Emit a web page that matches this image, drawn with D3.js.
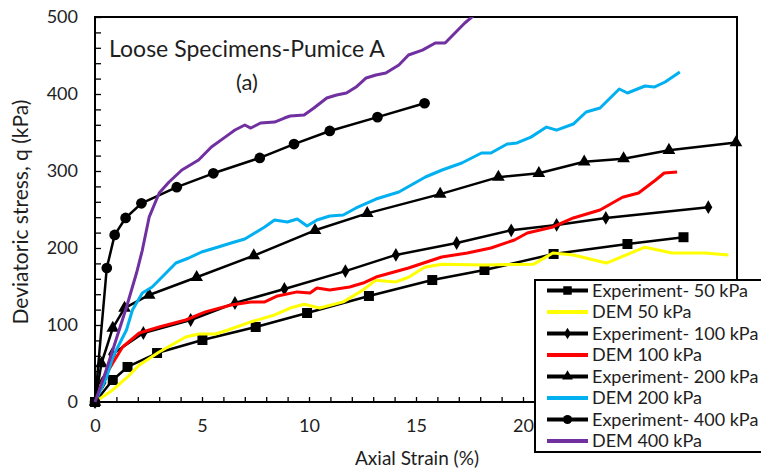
<!DOCTYPE html>
<html>
<head>
<meta charset="utf-8">
<script src="https://cdn.jsdelivr.net/npm/d3@7"></script>
<style>
  body { margin: 0; background: #fff; }
  svg { display: block; font-family: Lato, "Open Sans", sans-serif; }
</style>
</head>
<body>
<svg id="chart" width="761" height="472"></svg>
<script>
// series names / legend labels
const seriesNames = ["Experiment- 50 kPa", "DEM 50 kPa", "Experiment- 100 kPa", "DEM 100 kPa",
                     "Experiment- 200 kPa", "DEM 200 kPa", "Experiment- 400 kPa", "DEM 400 kPa"]
// 25 and 30 sit under the legend box, so only these show
const xTicks = [0, 5, 10, 15, 20]
const yTicks = [0, 100, 200, 300, 400, 500]

// [axial strain %, q kPa]
const exp50 = [[0,0],[0.83,28.6],[1.52,45.5],[2.9,63.6],[5.02,80.5],[7.51,97.4],[9.91,115.6],[12.8,137.7],
  [15.76,158.4],[18.2,171.4],[21.43,192.2],[24.88,205.2],[27.5,214]]
const dem50 = [[0,0],[0.83,15.6],[1.47,31.2],[2.07,48],[3.0,65],[4.24,84.4],[4.84,88.3],[5.62,88.3],[6.22,93.5],
  [7.28,104],[8.39,113],[9.12,122],[9.77,127],[10.5,122],[11.6,130],[12.5,145],[13.1,158],[14.06,156],[14.65,162],
  [15.4,175],[16.2,179],[18.2,178],[20.5,179],[21.4,193.5],[22.35,191],[23.9,180.5],[25.7,201],[26.96,193.5],
  [28.5,193.5],[29.6,191]]
const exp100 = [[0,0],[0.35,25],[0.8,62],[2.26,89.6],[4.47,106.5],[6.54,128.6],[8.85,146.8],[11.7,170],
  [14.06,191],[16.9,206.5],[19.45,223],[21.57,230],[23.87,239],[28.66,253]]
const dem100 = [[0,0],[0.37,28.6],[0.83,50.6],[1.29,71.4],[2.07,89.6],[3.0,97.4],[4.24,106.5],[5.16,117],
  [6.36,126],[7.28,130],[7.93,130],[8.53,137.7],[9.45,143],[10.05,141.6],[10.37,148],[10.97,145.5],[11.9,149.4],
  [12.53,154.5],[13.13,162.3],[14.65,174],[16.2,188.3],[17.4,193.5],[18.5,200],[19.6,210.4],[20.2,219.5],
  [21.4,227.3],[22.35,239],[23.6,249.4],[24.65,266],[25.4,271.4],[26.2,288.3],[26.6,297.4],[27.2,298.7]]
const exp200 = [[0,0],[0.3,50],[0.83,96],[1.38,122],[2.53,139],[4.75,162],[7.42,190],[10.28,223],[12.72,245],
  [16.13,270],[18.85,292],[20.74,297],[22.86,312],[24.7,316],[26.82,327],[29.95,337]]
const dem200 = [[0,0],[0.55,32.5],[0.83,58.4],[1.47,93.5],[1.75,119.5],[2.21,141.6],[2.67,149.4],[3.32,167.5],
  [3.78,180.5],[4.38,187],[4.98,194.8],[5.76,201.3],[6.36,206.5],[7.0,211.7],[7.93,227.3],[8.39,236.4],
  [8.99,233.8],[9.45,237.7],[9.91,228.6],[10.37,236.4],[10.97,241.6],[11.6,242.9],[12.2,252],[13.13,263.6],
  [14.2,272.7],[15.44,292.2],[16.22,301.3],[17.14,310.4],[18.06,323.4],[18.5,323.4],[19.26,335],[19.72,336.4],
  [20.37,344],[21.1,357],[21.57,353],[22.35,361],[22.95,376.6],[23.6,381.8],[24.5,406.5],[24.88,401.3],
  [25.7,410.4],[26.13,409],[26.64,415.6],[27.33,428.6]]
const exp400 = [[0,0],[0.55,174],[0.92,217],[1.43,239],[2.17,258],[3.82,279],[5.53,297],[7.7,317],[9.3,335],
  [10.97,352],[13.2,370],[15.4,388]]
const dem400 = [[0,0],[0.37,28.6],[0.83,67.5],[1.47,123],[1.94,167.5],[2.21,197],[2.53,240],[3.0,271.4],
  [3.46,285.7],[4.06,301.3],[4.84,314.3],[5.44,331.2],[6.08,344],[6.54,353.2],[7.0,359.7],[7.28,355.8],
  [7.74,362.3],[8.39,363.6],[8.85,368.8],[9.12,371.4],[9.77,372.7],[10.23,381.8],[10.83,394.8],[11.29,398.7],
  [11.75,401.3],[12.2,409],[12.67,420.8],[13.13,424.7],[13.59,427.3],[14.2,437.7],[14.65,450.6],[15.3,457],
  [15.9,466.2],[16.36,466.2],[16.82,479.2],[17.28,492.2],[17.7,502]]

const series = [
  {name: seriesNames[0], data: exp50, color: "#000", marker: "square"},
  {name: seriesNames[1], data: dem50, color: "#ffff00"},
  {name: seriesNames[2], data: exp100, color: "#000", marker: "diamond"},
  {name: seriesNames[3], data: dem100, color: "#ff0000"},
  {name: seriesNames[4], data: exp200, color: "#000", marker: "triangle"},
  {name: seriesNames[5], data: dem200, color: "#00b0f0"},
  {name: seriesNames[6], data: exp400, color: "#000", marker: "circle"},
  {name: seriesNames[7], data: dem400, color: "#7030a0"}
]

const svg = d3.select("#chart")
const margin = {top: 17, right: 24, bottom: 70, left: 95}
const width = 761 - margin.left - margin.right,
      height = 472 - margin.top - margin.bottom
const g = svg.append("g").attr("transform", "translate(" + margin.left + "," + margin.top + ")")

const x = d3.scaleLinear().domain([0, 30]).range([0, width])
const y = d3.scaleLinear().domain([0, 500]).range([height, 0])

const textColor = "#1e1e1e"

// minor ticks (inside)
g.append("g")
  .attr("transform", "translate(0," + height + ")")
  .call(d3.axisBottom(x).tickValues(d3.range(0, 31, 1)).tickSizeInner(-5).tickSizeOuter(0).tickFormat(""))
  .call(a => a.select(".domain").remove())
  .selectAll("line").attr("stroke", "#000").attr("stroke-width", 1.3)
g.append("g")
  .call(d3.axisLeft(y).tickValues(d3.range(0, 501, 20)).tickSizeInner(-6).tickSizeOuter(0).tickFormat(""))
  .call(a => a.select(".domain").remove())
  .selectAll("line").attr("stroke", "#000").attr("stroke-width", 1.3)

// labels
g.append("g")
  .attr("transform", "translate(0," + height + ")")
  .call(d3.axisBottom(x).tickValues(xTicks).tickSize(0).tickPadding(17))
  .call(a => a.select(".domain").remove())
  .selectAll("text").attr("font-size", 18).attr("fill", textColor).attr("font-family", "Lato, sans-serif")
g.append("g")
  .call(d3.axisLeft(y).tickValues(yTicks).tickSize(0).tickPadding(17))
  .call(a => a.select(".domain").remove())
  .selectAll("text").attr("font-size", 18).attr("fill", textColor).attr("font-family", "Lato, sans-serif")

// frame
g.append("rect").attr("width", width).attr("height", height)
  .attr("fill", "none").attr("stroke", "#000").attr("stroke-width", 2)

g.append("clipPath").attr("id", "clip").append("rect")
  .attr("x", -6).attr("y", 0).attr("width", width + 12).attr("height", height + 8)

const line = d3.line().x(d => x(d[0])).y(d => y(d[1]))

const sym = {
  square: d3.symbol().type(d3.symbolSquare).size(100),
  diamond: d3.symbol().type(d3.symbolDiamond).size(55),
  triangle: d3.symbol().type(d3.symbolTriangle).size(70),
  circle: d3.symbol().type(d3.symbolCircle).size(90)
}

const plot = g.append("g").attr("clip-path", "url(#clip)")
series.forEach(s => {
  plot.append("path").datum(s.data)
    .attr("d", line)
    .attr("fill", "none")
    .attr("stroke", s.color)
    .attr("stroke-width", s.marker ? 2.5 : 3)
    .attr("stroke-linejoin", "round")
  if (s.marker) {
    plot.selectAll(null).data(s.data).enter().append("path")
      .attr("d", sym[s.marker])
      .attr("transform", d => "translate(" + x(d[0]) + "," + y(d[1]) + ")")
      .attr("fill", "#000")
  }
})

// title
g.append("text").attr("x", 152).attr("y", 40).attr("text-anchor", "middle")
  .attr("font-size", 23).attr("fill", textColor).text("Loose Specimens-Pumice A")
g.append("text").attr("x", 152).attr("y", 73).attr("text-anchor", "middle")
  .attr("font-size", 22).attr("fill", textColor).text("(a)")

// axis titles
svg.append("text").attr("x", 417).attr("y", 465).attr("text-anchor", "middle")
  .attr("font-size", 19).attr("fill", textColor).text("Axial Strain (%)")
svg.append("text").attr("transform", "translate(28,212) rotate(-90)").attr("text-anchor", "middle")
  .attr("font-size", 21).attr("fill", textColor).text("Deviatoric stress, q (kPa)")

// legend
const legend = svg.append("g").attr("transform", "translate(535,280)")
legend.append("rect").attr("width", 240).attr("height", 172)
  .attr("fill", "#fff").attr("stroke", "#000").attr("stroke-width", 2)
const row = legend.selectAll("g.row").data(series).enter().append("g")
  .attr("class", "row")
  .attr("transform", (d, i) => "translate(0," + (10.5 + i * 21.5) + ")")
row.append("line").attr("x1", 12).attr("x2", 53)
  .attr("stroke", d => d.color).attr("stroke-width", 4)
row.filter(d => d.marker).append("path")
  .attr("d", d => sym[d.marker](d))
  .attr("transform", "translate(32.5,0) scale(0.85)")
  .attr("fill", "#000")
row.append("text").attr("x", 57).attr("dy", "0.36em")
  .attr("font-size", 18).attr("fill", textColor).text(d => d.name)
</script>
</body>
</html>
